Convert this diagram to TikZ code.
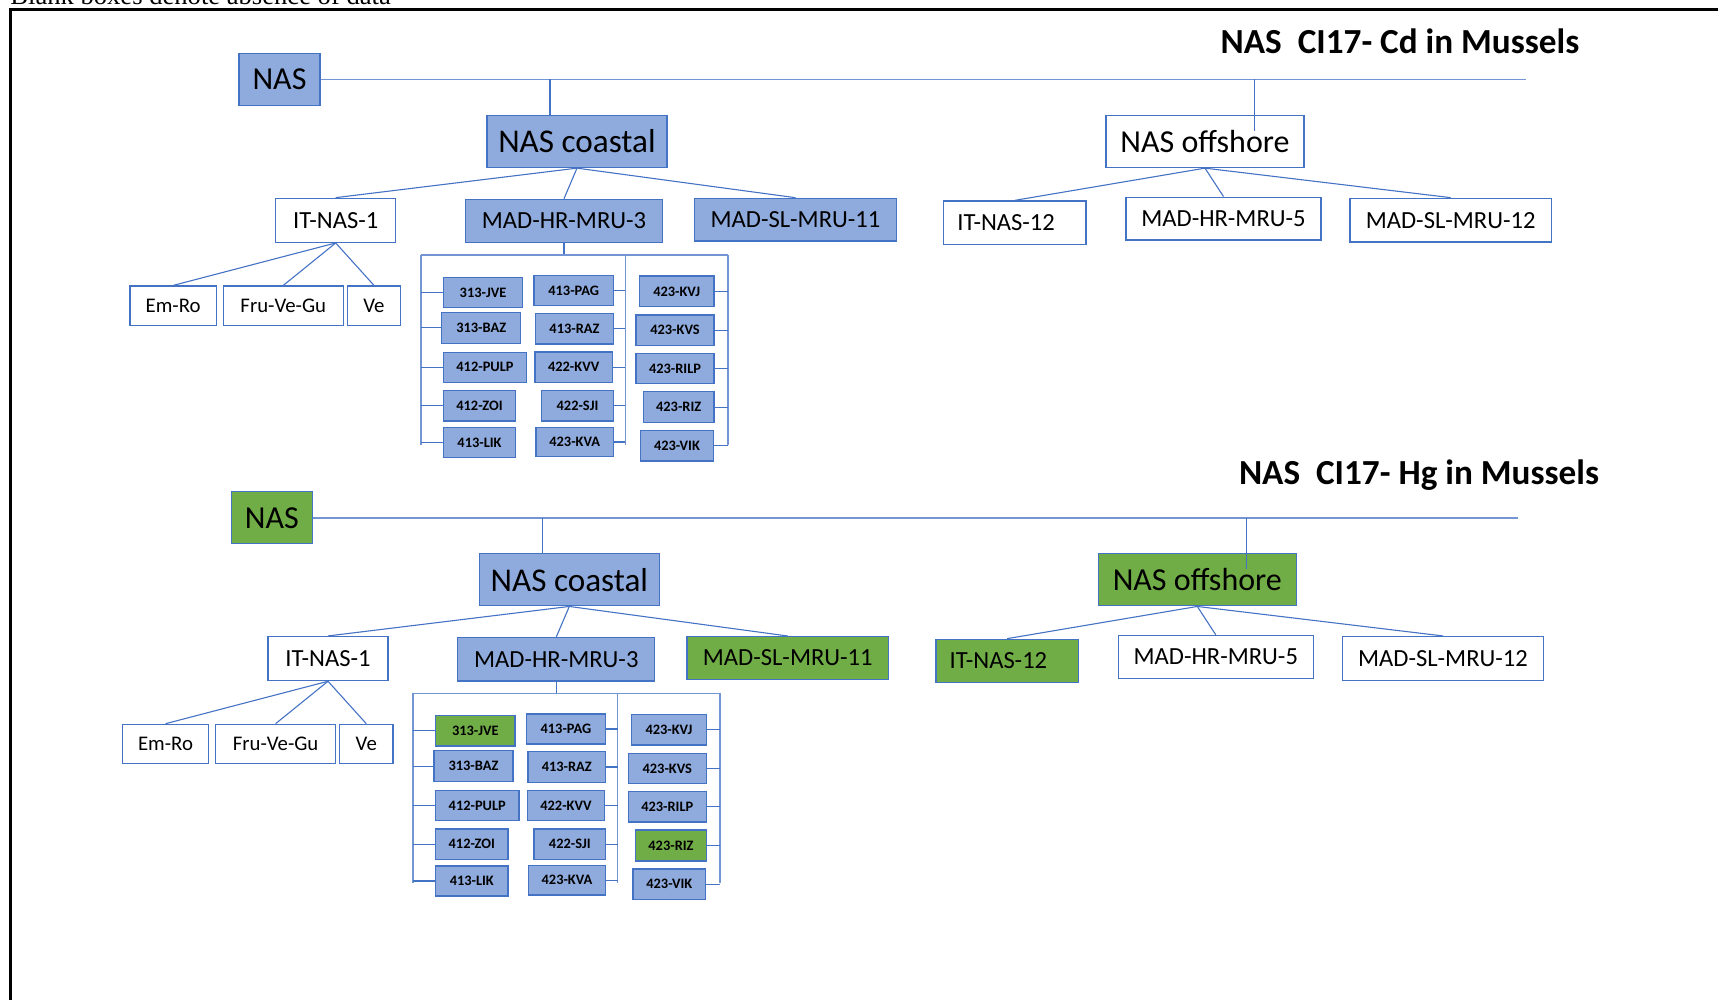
\documentclass[tikz,border=0pt]{standalone}
\usepackage{fontspec}
\setmainfont{Carlito}
\newfontfamily\notefont{Liberation Serif}

\definecolor{boxblue}{HTML}{8FAADC}
\definecolor{edgeblue}{HTML}{4472C4}
\definecolor{boxgreen}{HTML}{70AD47}

\tikzset{
  nbox/.style={draw=edgeblue, line width=0.65pt, inner sep=0pt},
  wh/.style 2 args={minimum width=#1*0.5pt, minimum height=#2*0.5pt},
  ftop/.style={font=\fontsize{16}{19}\selectfont},
  fcoast/.style={font=\fontsize{16.6}{20}\selectfont},
  fmid/.style={font=\fontsize{12.3}{14}\selectfont},
  fsmall/.style={font=\fontsize{10.4}{12}\selectfont},
  fcode/.style={font=\bfseries\fontsize{7.2}{8}\selectfont},
  ttl/.style={font=\bfseries\fontsize{17.6}{20}\selectfont, inner sep=0pt},
  link/.style={draw=edgeblue, line width=0.55pt},
  trunk/.style={draw=edgeblue!75, line width=0.8pt},
}

% one assessment tree, colours set by the caller
\newcommand\nastree{%
  \node[nbox, fill=nascol, ftop, wh={81}{52}] (nas) at (279.5,79.5) {NAS};
  \node[nbox, fill=boxblue, fcoast, wh={180}{52}] (coastal) at (577,141.5) {NAS coastal};
  \node[nbox, fill=offcol, ftop, wh={198}{52}] (offshore) at (1205,141.5) {NAS offshore};
  \node[nbox, fill=white, fmid, wh={120}{44}] (it1) at (335.7,220.3) {IT-NAS-1};
  \node[nbox, fill=boxblue, fmid, wh={197}{43.4}] (hr3) at (564,221) {MAD-HR-MRU-3};
  \node[nbox, fill=sl11col, fmid, wh={201.6}{42.7}] (sl11) at (795.5,219.7) {MAD-SL-MRU-11};
  \node[nbox, fill=it12col, fmid, wh={142.3}{43.4}, text width=57.5pt, align=left] (it12) at (1014.8,222.7) {IT-NAS-12};
  \node[nbox, fill=white, fmid, wh={195}{42.8}] (hr5) at (1223.5,218.6) {MAD-HR-MRU-5};
  \node[nbox, fill=white, fmid, wh={201.6}{43.8}] (sl12) at (1450.7,220.2) {MAD-SL-MRU-12};
  \node[nbox, fill=white, fsmall, wh={86.3}{39.3}] (emro) at (173.2,305.7) {Em-Ro};
  \node[nbox, fill=white, fsmall, wh={120}{39.3}] (fvg) at (283.3,305.7) {Fru-Ve-Gu};
  \node[nbox, fill=white, fsmall, wh={53.4}{39.3}] (ve) at (374,305.7) {Ve};
  % spine and branches
  \coordinate (spineend) at (1526,79.5);
  \coordinate (cjoin) at (550,79.5);
  \coordinate (ojoin) at (1254.6,79.5);
  \coordinate (oin) at (1254.6,131);
  \draw[trunk] (nas.east) -- (spineend);
  \draw[link] (cjoin) -- (cjoin |- coastal.north);
  \draw[link] (ojoin) -- (oin);
  \foreach \c in {it1,hr3,sl11} \draw[link] (coastal.south) -- (\c.north);
  \foreach \c in {it12,hr5,sl12} \draw[link] (offshore.south) -- (\c.north);
  \foreach \c in {emro,fvg,ve} \draw[link] (it1.south) -- (\c.north);
  % bracket with the water bodies
  \coordinate (bl) at (420.7,255);
  \coordinate (bm) at (625.3,255);
  \coordinate (br) at (727.7,255);
  \draw[link] (hr3.south) -- (hr3.south |- bl);
  \draw[trunk] (bl) -- (br);
  \draw[trunk] (bl) -- ++(0,190);
  \draw[trunk] (bm) -- ++(0,190);
  \draw[trunk] (br) -- ++(0,190);
  \foreach \n/\x/\y/\w/\h/\f/\t in {jve/483/292.5/79.4/30.4/jvecol/313-JVE,
      baz/481.2/327.8/79/31/boxblue/313-BAZ, pulp/485/367.3/83.4/30/boxblue/412-PULP,
      zoi/479.5/405.9/72.4/30.3/boxblue/412-ZOI, lik/479.5/442.7/72.4/30/boxblue/413-LIK}{
    \node[nbox, fill=\f, fcode, wh={\w}{\h}] (\n) at (\x,\y) {\t};
    \draw[link] (\n.west) -- (\n.west -| bl);
  }
  \foreach \n/\x/\y/\w/\h/\t in {pag/573.7/290.7/79.3/30/413-PAG,
      raz/574.5/328.7/77.6/30.7/413-RAZ, kvv/573.7/367.2/77.3/30.3/422-KVV,
      sji/577.5/405.9/71.6/30.3/422-SJI, kva/574.7/442/77.3/29.4/423-KVA}{
    \node[nbox, fill=boxblue, fcode, wh={\w}{\h}] (\n) at (\x,\y) {\t};
    \draw[link] (\n.east) -- (\n.east -| bm);
  }
  \foreach \n/\x/\y/\w/\h/\f/\t in {kvj/676.7/291.4/74.7/30.7/boxblue/423-KVJ,
      kvs/675/330.2/78/30.3/boxblue/423-KVS, rilp/675/368.5/78/30.4/boxblue/423-RILP,
      riz/678.7/407.2/70.7/31/rizcol/423-RIZ, vik/677/445.9/72.6/30.3/boxblue/423-VIK}{
    \node[nbox, fill=\f, fcode, wh={\w}{\h}] (\n) at (\x,\y) {\t};
    \draw[link] (\n.east) -- (\n.east -| br);
  }
}

\begin{document}
\begin{tikzpicture}[x=0.5pt,y=-0.5pt]
  \useasboundingbox (0,0) rectangle (1718,1000);
  \clip (0,0) rectangle (1718,1000);
  \node[anchor=base west, inner sep=0pt, font=\notefont\fontsize{13.3}{15}\selectfont] (note) at (10,4.5) {Blank boxes denote absence of data};
  \draw[line width=1.5pt] (1730,10) -- (10,10) -- (10,1010);

  \node[ttl, anchor=base] (cdtitle) at (1400,54) {NAS\ \ CI17- Cd in Mussels};
  \node[ttl, anchor=base] (hgtitle) at (1419,484.5) {NAS\ \ CI17- Hg in Mussels};

  \begin{scope}[name prefix=cd-]
    \colorlet{nascol}{boxblue}\colorlet{offcol}{white}\colorlet{sl11col}{boxblue}
    \colorlet{it12col}{white}\colorlet{jvecol}{boxblue}\colorlet{rizcol}{boxblue}
    \nastree
  \end{scope}

  \begin{scope}[shift={(-7.7,438.3)}, name prefix=hg-]
    \colorlet{nascol}{boxgreen}\colorlet{offcol}{boxgreen}\colorlet{sl11col}{boxgreen}
    \colorlet{it12col}{boxgreen}\colorlet{jvecol}{boxgreen}\colorlet{rizcol}{boxgreen}
    \nastree
  \end{scope}
\end{tikzpicture}
\end{document}
